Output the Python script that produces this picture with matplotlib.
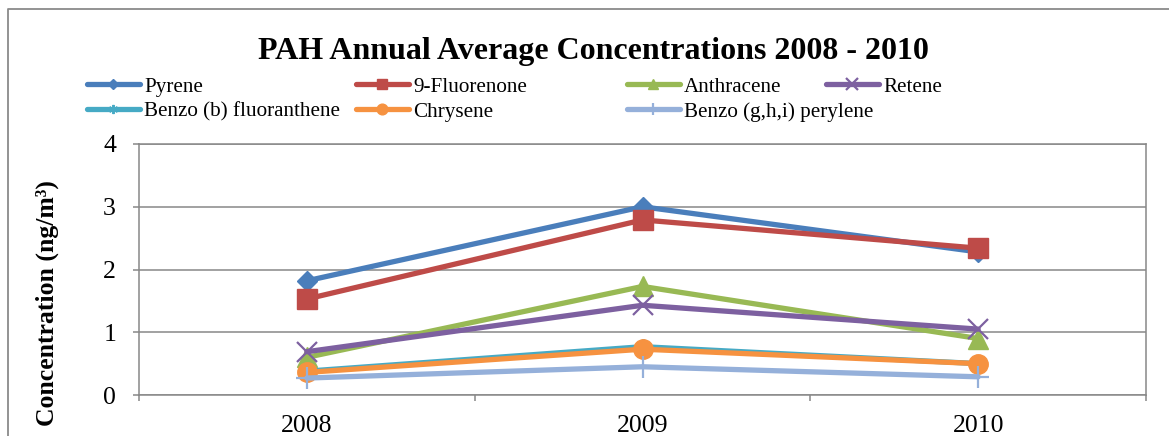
import matplotlib
matplotlib.use("Agg")
import matplotlib.pyplot as plt
from matplotlib.lines import Line2D
from matplotlib.ticker import FixedLocator, NullFormatter

plt.rcParams["font.family"] = ["Liberation Serif", "DejaVu Serif"]

# Annual average concentrations (ng/m3)
years = ["2008", "2009", "2010"]
pyrene = [1.82, 3.00, 2.28]
fluorenone = [1.53, 2.79, 2.34]
anthracene = [0.60, 1.73, 0.90]
retene = [0.69, 1.43, 1.05]
benzo_b_fluoranthene = [0.38, 0.77, 0.50]
chrysene = [0.36, 0.73, 0.50]
benzo_ghi_perylene = [0.27, 0.45, 0.29]

names = ["Pyrene", "9-Fluorenone", "Anthracene", "Retene",
         "Benzo (b) fluoranthene", "Chrysene", "Benzo (g,h,i) perylene"]
series = [pyrene, fluorenone, anthracene, retene,
          benzo_b_fluoranthene, chrysene, benzo_ghi_perylene]

colors = ["#4A7EBB", "#BE4B48", "#98B954", "#7D60A0",
          "#46AAC5", "#F69240", "#95B0DA"]
markers = ["D", "s", "^", "x", (6, 2, 0), "o", "+"]
msizes = [10, 14, 14, 15, 12, 14, 16]
medges = [1, 1, 1, 1.6, 1.4, 1, 1.6]

W, H = 1169, 436
fig = plt.figure(figsize=(W / 100, H / 100), dpi=100)
fig.patch.set_facecolor("white")

# outer chart frame (left and top edges visible)
frame = Line2D([8 / W, 8 / W, 1.2], [-0.2, 1 - 9 / H, 1 - 9 / H],
               transform=fig.transFigure, color="#8A8A8A", lw=1.3)
fig.add_artist(frame)

ax = fig.add_axes([139 / W, 1 - 395 / H, 1007 / W, 251 / H])
x = [1, 2, 3]

lines = []
for vals, name, c, m, ms, mew in zip(series, names, colors, markers, msizes, medges):
    ln, = ax.plot(x, vals, color=c, lw=3.8, marker=m, markersize=ms,
                  markerfacecolor=c, markeredgecolor=c, markeredgewidth=mew,
                  solid_joinstyle="round", solid_capstyle="round", label=name, zorder=3)
    lines.append(ln)

ax.set_xlim(0.5, 3.5)
ax.set_ylim(0, 4)
ax.set_yticks([0, 1, 2, 3, 4])
ax.set_yticklabels(["0", "1", "2", "3", "4"])
ax.xaxis.set_major_locator(FixedLocator([0.5, 1.5, 2.5, 3.5]))
ax.xaxis.set_major_formatter(NullFormatter())
ax.xaxis.set_minor_locator(FixedLocator(x))
ax.set_xticklabels(years, minor=True)

grey = "#888888"
ax.grid(axis="y", color=grey, lw=1.1, zorder=1)
for s in ax.spines.values():
    s.set_color(grey)
    s.set_linewidth(1.1)
ax.tick_params(axis="y", which="major", length=4.5, width=1.1, color=grey,
               labelsize=18.5, pad=12)
ax.tick_params(axis="x", which="major", length=4.5, width=1.1, color=grey)
ax.tick_params(axis="x", which="minor", length=0, labelsize=18.5, pad=14.5)

fig.text(593 / W, 1 - 59 / H, "PAH Annual Average Concentrations 2008 - 2010",
         ha="center", va="baseline", fontsize=23, fontweight="bold")

fig.text(47 / W, 1 - 303 / H, "Concentration (ng/m³)", rotation=90,
         ha="center", va="center", fontsize=18.5, fontweight="bold")

# legend entries laid out in four columns, two rows
col_x = [87, 356, 627, 826, 87, 356, 627]
row_y = [87, 87, 87, 87, 112, 112, 112]
for ln, name, cx, ry in zip(lines, names, col_x, row_y):
    fig.legend(handles=[ln], labels=[name], loc="center left",
               bbox_to_anchor=(cx / W, 1 - ry / H), frameon=False,
               borderpad=0, borderaxespad=0, handlelength=2.5,
               handletextpad=0.2, markerscale=0.55, numpoints=1,
               prop={"size": 15.2})

fig.savefig("out.png", dpi=100)
